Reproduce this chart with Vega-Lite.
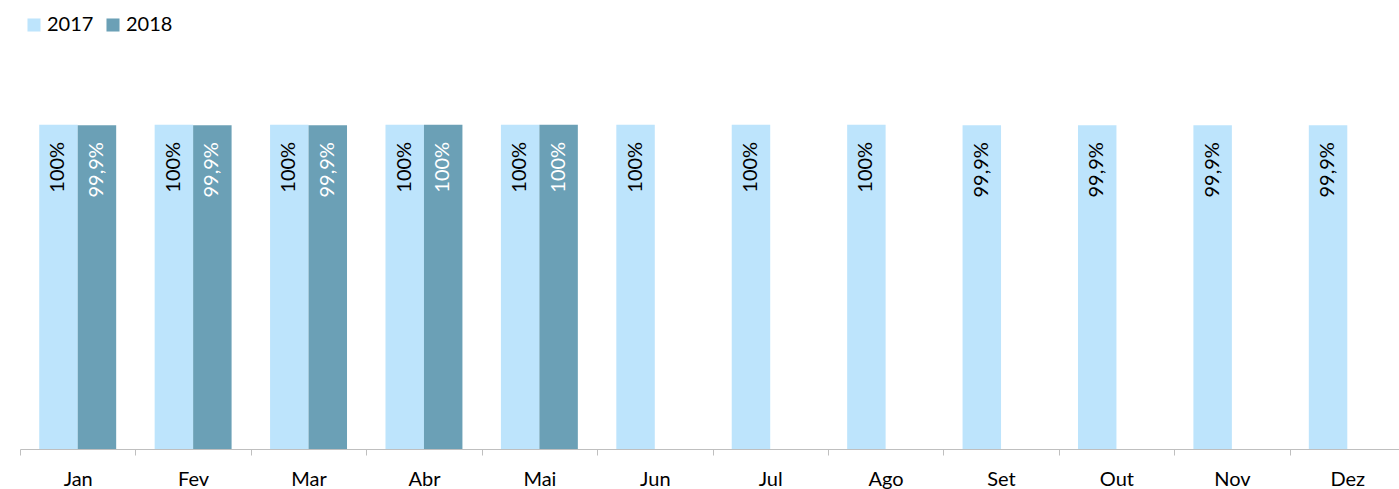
{
  "$schema": "https://vega.github.io/schema/vega-lite/v6.json",
  "width": 1379,
  "height": 389,
  "autosize": {"type": "none"},
  "padding": {"left": 20, "top": 60, "right": 0, "bottom": 40},
  "config": {
    "view": {"stroke": null},
    "font": "Lato"
  },
  "data": {
    "values": [
      {"mes": "Jan", "ano": "2017", "valor": 1.0, "rotulo": "100%"},
      {"mes": "Jan", "ano": "2018", "valor": 0.999, "rotulo": "99,9%"},
      {"mes": "Fev", "ano": "2017", "valor": 1.0, "rotulo": "100%"},
      {"mes": "Fev", "ano": "2018", "valor": 0.999, "rotulo": "99,9%"},
      {"mes": "Mar", "ano": "2017", "valor": 1.0, "rotulo": "100%"},
      {"mes": "Mar", "ano": "2018", "valor": 0.999, "rotulo": "99,9%"},
      {"mes": "Abr", "ano": "2017", "valor": 1.0, "rotulo": "100%"},
      {"mes": "Abr", "ano": "2018", "valor": 1.0, "rotulo": "100%"},
      {"mes": "Mai", "ano": "2017", "valor": 1.0, "rotulo": "100%"},
      {"mes": "Mai", "ano": "2018", "valor": 1.0, "rotulo": "100%"},
      {"mes": "Jun", "ano": "2017", "valor": 1.0, "rotulo": "100%"},
      {"mes": "Jul", "ano": "2017", "valor": 1.0, "rotulo": "100%"},
      {"mes": "Ago", "ano": "2017", "valor": 1.0, "rotulo": "100%"},
      {"mes": "Set", "ano": "2017", "valor": 0.999, "rotulo": "99,9%"},
      {"mes": "Out", "ano": "2017", "valor": 0.999, "rotulo": "99,9%"},
      {"mes": "Nov", "ano": "2017", "valor": 0.999, "rotulo": "99,9%"},
      {"mes": "Dez", "ano": "2017", "valor": 0.999, "rotulo": "99,9%"}
    ]
  },
  "encoding": {
    "x": {
      "field": "mes",
      "type": "nominal",
      "sort": ["Jan", "Fev", "Mar", "Abr", "Mai", "Jun", "Jul", "Ago", "Set", "Out", "Nov", "Dez"],
      "scale": {"paddingInner": 0, "paddingOuter": 0, "range": [0, 1385]},
      "axis": {
        "title": null,
        "labelAngle": 0,
        "labelFont": "Lato",
        "labelFontSize": 20,
        "labelColor": "#000000",
        "labelPadding": 14,
        "domainColor": "#BFBFBF",
        "tickColor": "#BFBFBF",
        "tickSize": 6,
        "tickBand": "extent",
        "grid": false
      }
    },
    "xOffset": {
      "field": "ano",
      "type": "nominal",
      "scale": {"paddingInner": 0, "paddingOuter": 0.5}
    },
    "y": {
      "field": "valor",
      "type": "quantitative",
      "scale": {"domain": [0, 1.2]},
      "axis": null
    }
  },
  "layer": [
    {
      "mark": {"type": "bar"},
      "encoding": {
        "color": {
          "field": "ano",
          "type": "nominal",
          "scale": {"domain": ["2017", "2018"], "range": ["#BDE4FC", "#6BA0B6"]},
          "legend": {
            "title": null,
            "orient": "none",
            "legendX": 4,
            "legendY": -45,
            "direction": "horizontal",
            "symbolType": "square",
            "symbolSize": 170,
            "symbolStrokeWidth": 0,
            "labelFont": "Lato",
            "labelFontSize": 20,
            "labelColor": "#000000",
            "labelOffset": 3,
            "columnPadding": 9
          }
        }
      }
    },
    {
      "mark": {
        "type": "text",
        "angle": 270,
        "align": "right",
        "baseline": "middle",
        "dx": -17,
        "font": "Lato",
        "fontSize": 20
      },
      "encoding": {
        "text": {"field": "rotulo"},
        "color": {
          "condition": {"test": "datum.ano === '2018'", "value": "#FFFFFF"},
          "value": "#000000"
        }
      }
    }
  ]
}
